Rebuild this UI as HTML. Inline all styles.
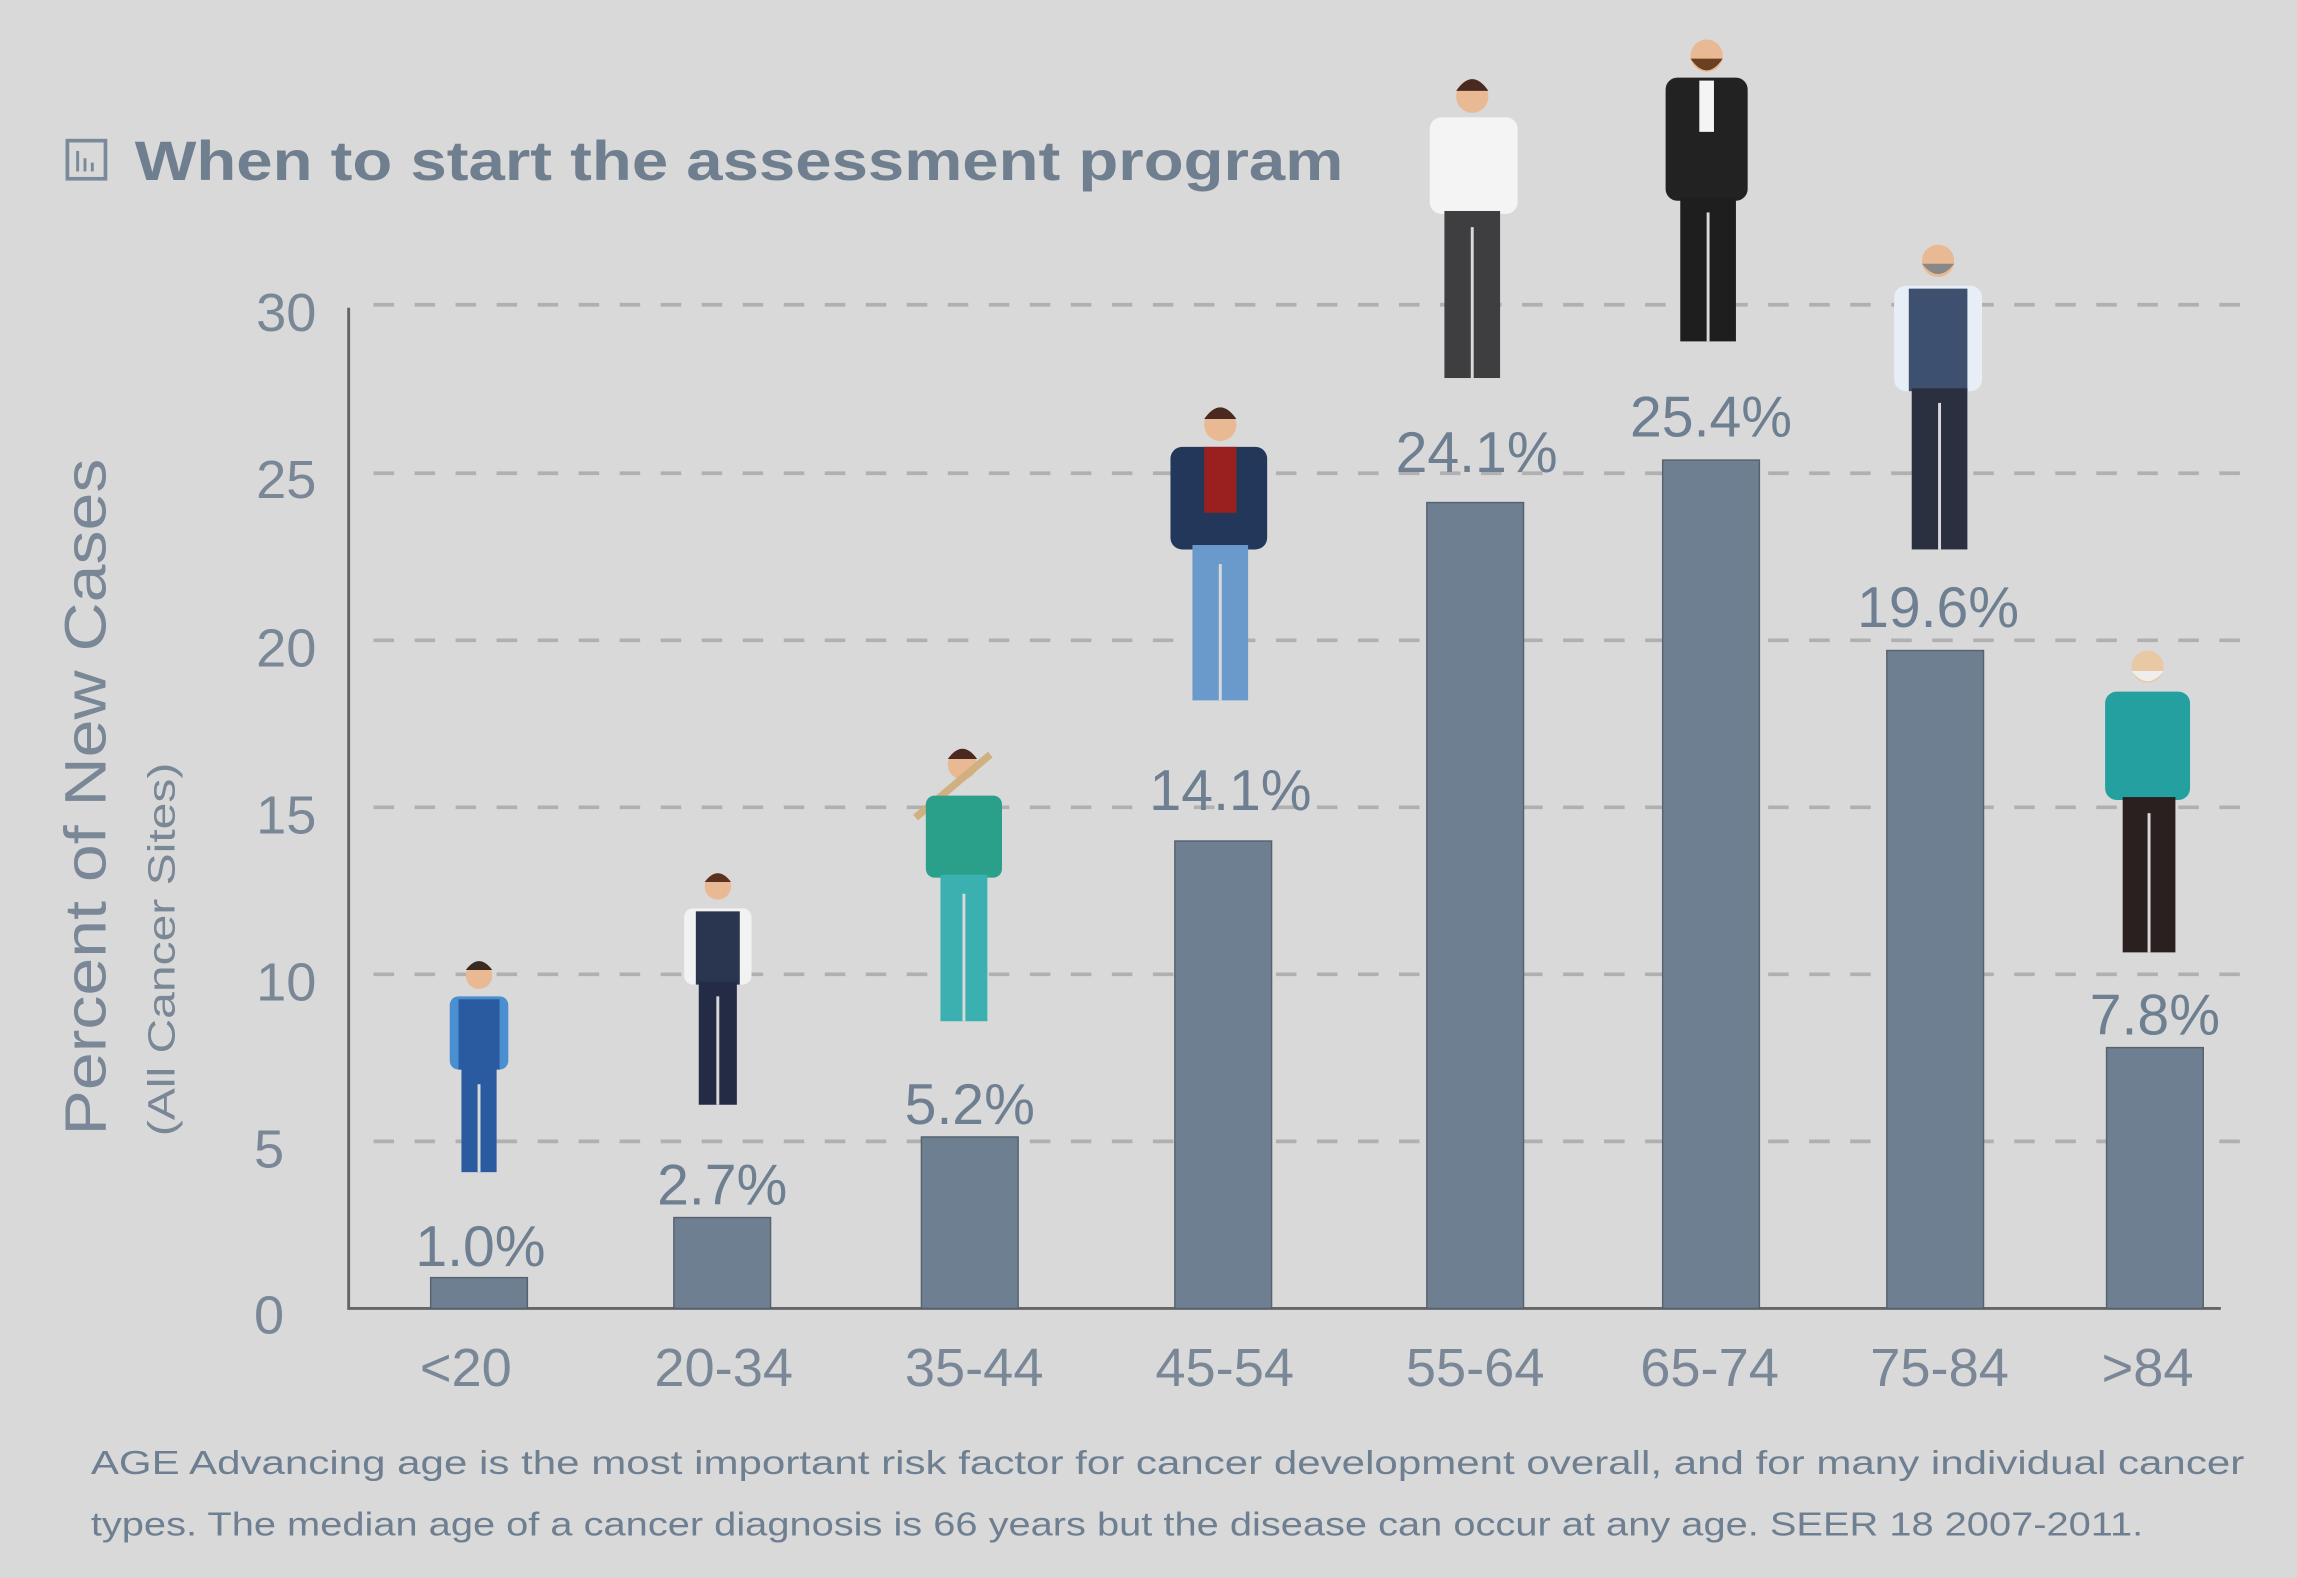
<!DOCTYPE html>
<html><head><meta charset="utf-8"><style>
html,body{margin:0;padding:0;background:#d9d9d9;}
svg{display:block;}
text{font-family:"Liberation Sans",sans-serif;}
</style></head><body>
<svg width="2297" height="1578" viewBox="0 0 1568 1077" preserveAspectRatio="none" xmlns="http://www.w3.org/2000/svg">
<rect width="1568" height="1077" fill="#d9d9d9"/>
<!-- title -->
<rect x="46" y="96" width="26" height="26" fill="none" stroke="#7a8a9a" stroke-width="2.5"/>
<rect x="52" y="103" width="2" height="14" fill="#7a8a9a"/><rect x="57" y="108" width="2" height="9" fill="#7a8a9a"/><rect x="62" y="111" width="2" height="6" fill="#7a8a9a"/>
<text x="92" y="123" font-size="38" font-weight="bold" fill="#6f7f8f" textLength="825" lengthAdjust="spacingAndGlyphs">When to start the assessment program</text>
<!-- grid -->
<g stroke="#b0b0b0" stroke-width="2.5" stroke-dasharray="14 14">
<line x1="255" y1="208" x2="1535" y2="208"/>
<line x1="255" y1="323" x2="1535" y2="323"/>
<line x1="255" y1="437" x2="1535" y2="437"/>
<line x1="255" y1="551" x2="1535" y2="551"/>
<line x1="255" y1="665" x2="1535" y2="665"/>
<line x1="255" y1="779" x2="1535" y2="779"/>
</g>
<line x1="238" y1="210" x2="238" y2="894" stroke="#666" stroke-width="2"/>
<line x1="238" y1="893" x2="1516" y2="893" stroke="#666" stroke-width="2"/>
<!-- y ticks -->
<g font-size="37" fill="#7a8797" text-anchor="end">
<text x="216" y="226">30</text><text x="216" y="340">25</text><text x="216" y="455">20</text>
<text x="216" y="569">15</text><text x="216" y="683">10</text><text x="194" y="797">5</text><text x="194" y="910">0</text>
</g>
<text transform="translate(72,544) rotate(-90)" font-size="40" fill="#7a8797" text-anchor="middle" textLength="462" lengthAdjust="spacingAndGlyphs">Percent of New Cases</text>
<text transform="translate(119,648) rotate(-90)" font-size="26" fill="#7a8797" text-anchor="middle" textLength="255" lengthAdjust="spacingAndGlyphs">(All Cancer Sites)</text>
<!-- bars -->
<g fill="#6e7f91" stroke="#56626f" stroke-width="1">
<rect x="294" y="872" width="66" height="21"/>
<rect x="460" y="831" width="66" height="62"/>
<rect x="629" y="776" width="66" height="117"/>
<rect x="802" y="574" width="66" height="319"/>
<rect x="974" y="343" width="66" height="550"/>
<rect x="1135" y="314" width="66" height="579"/>
<rect x="1288" y="444" width="66" height="449"/>
<rect x="1438" y="715" width="66" height="178"/>
</g>
<g font-size="39" fill="#6e7f91" text-anchor="middle">
<text x="328" y="864">1.0%</text><text x="493" y="822">2.7%</text><text x="662" y="767">5.2%</text>
<text x="840" y="553">14.1%</text><text x="1008" y="322">24.1%</text><text x="1168" y="298">25.4%</text>
<text x="1323" y="428">19.6%</text><text x="1471" y="706">7.8%</text>
</g>
<g font-size="37" fill="#7a8797" text-anchor="middle">
<text x="318" y="946">&lt;20</text><text x="494" y="946">20-34</text><text x="665" y="946">35-44</text>
<text x="836" y="946">45-54</text><text x="1007" y="946">55-64</text><text x="1167" y="946">65-74</text>
<text x="1324" y="946">75-84</text><text x="1466" y="946">&gt;84</text>
</g>
<!-- people -->
<g>
<circle cx="327" cy="666" r="9" fill="#e9b994"/><path d="M318 662 q9 -12 18 0z" fill="#3a2a20"/>
<rect x="307" y="680" width="40" height="50" rx="6" fill="#4a90d0"/><rect x="313" y="682" width="28" height="48" fill="#2a5aa0"/>
<rect x="315" y="728" width="24" height="72" fill="#2a5aa0"/><rect x="326" y="740" width="2" height="60" fill="#d9d9d9"/>

<circle cx="490" cy="605" r="9" fill="#e9b994"/><path d="M481 602 q9 -12 18 0z" fill="#5a3020"/>
<rect x="467" y="620" width="46" height="52" rx="6" fill="#f2f2f2"/><rect x="475" y="622" width="30" height="50" fill="#2a3550"/>
<rect x="477" y="670" width="26" height="84" fill="#232b45"/><rect x="489" y="680" width="2" height="74" fill="#d9d9d9"/>

<circle cx="657" cy="522" r="10" fill="#e9b994"/><path d="M647 518 q10 -14 20 0z" fill="#4a2a20"/>
<line x1="625" y1="558" x2="676" y2="515" stroke="#d0b080" stroke-width="5"/>
<rect x="632" y="543" width="52" height="56" rx="6" fill="#2aa08a"/>
<rect x="642" y="597" width="32" height="100" fill="#3ab0b0"/><rect x="657" y="610" width="2" height="87" fill="#d9d9d9"/>

<circle cx="833" cy="290" r="11" fill="#e9b994"/><path d="M822 286 q11 -16 22 0z" fill="#4a2a20"/>
<rect x="799" y="305" width="66" height="70" rx="8" fill="#23375a"/><rect x="822" y="305" width="22" height="45" fill="#9a2020"/>
<rect x="814" y="372" width="38" height="106" fill="#6a9acc"/><rect x="832" y="385" width="2" height="93" fill="#d9d9d9"/>

<circle cx="1005" cy="66" r="11" fill="#e9b994"/><path d="M994 62 q11 -16 22 0z" fill="#4a2a20"/>
<rect x="976" y="80" width="60" height="66" rx="8" fill="#f4f4f4"/>
<rect x="986" y="144" width="38" height="114" fill="#3e3e40"/><rect x="1004" y="155" width="2" height="103" fill="#d9d9d9"/>

<circle cx="1165" cy="38" r="11" fill="#e9b994"/><path d="M1154 40 q11 16 22 0z" fill="#6a4020"/>
<rect x="1137" y="53" width="56" height="84" rx="8" fill="#222"/><rect x="1160" y="55" width="10" height="35" fill="#f4f4f4"/>
<rect x="1147" y="135" width="38" height="98" fill="#1e1e1e"/><rect x="1165" y="145" width="2" height="88" fill="#d9d9d9"/>

<circle cx="1323" cy="178" r="11" fill="#e9b994"/><path d="M1312 180 q11 14 22 0z" fill="#888"/>
<rect x="1293" y="195" width="60" height="72" rx="8" fill="#e8eef5"/><rect x="1303" y="197" width="40" height="70" fill="#3e5070"/>
<rect x="1305" y="265" width="38" height="110" fill="#2a3040"/><rect x="1323" y="275" width="2" height="100" fill="#d9d9d9"/>

<circle cx="1466" cy="455" r="11" fill="#e9c9a4"/><path d="M1455 458 q11 14 22 0z" fill="#eee"/>
<rect x="1437" y="472" width="58" height="74" rx="8" fill="#24a0a0"/>
<rect x="1449" y="544" width="36" height="106" fill="#2a2020"/><rect x="1466" y="555" width="2" height="95" fill="#d9d9d9"/>
</g>
<!-- caption -->
<g font-size="23" fill="#6e7f91">
<text x="62" y="1006" textLength="1470" lengthAdjust="spacingAndGlyphs">AGE Advancing age is the most important risk factor for cancer development overall, and for many individual cancer</text>
<text x="62" y="1048" textLength="1401" lengthAdjust="spacingAndGlyphs">types. The median age of a cancer diagnosis is 66 years but the disease can occur at any age. SEER 18 2007-2011.</text>
</g>
</svg>
</body></html>
